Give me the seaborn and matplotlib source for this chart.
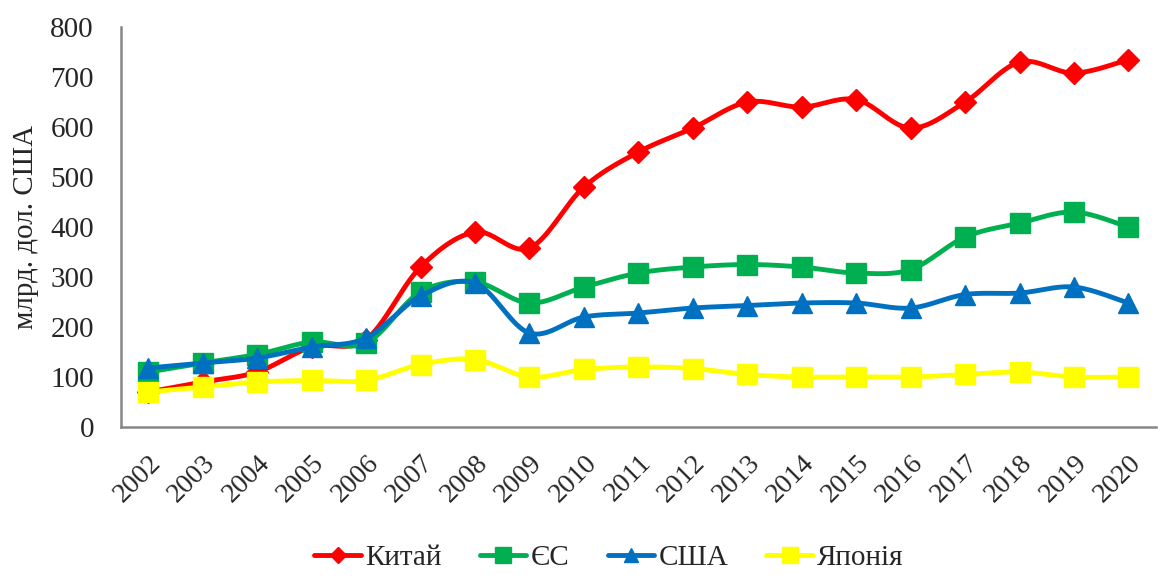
import numpy as np
import pandas as pd
import matplotlib
matplotlib.use("Agg")
import matplotlib.pyplot as plt
from matplotlib.lines import Line2D
import seaborn as sns

# Дані (млрд. дол. США)
years = [str(y) for y in range(2002, 2021)]
china = [70, 90, 110, 160, 175, 320, 390, 358, 480, 550, 598, 650, 640, 655, 598, 650, 730, 708, 735]
eu = [110, 128, 145, 170, 168, 270, 290, 248, 280, 308, 320, 325, 320, 308, 315, 380, 408, 430, 400]
usa = [118, 128, 138, 160, 178, 262, 288, 188, 220, 228, 238, 243, 248, 248, 238, 265, 268, 280, 248]
japan = [70, 80, 90, 93, 93, 125, 135, 100, 115, 120, 117, 105, 100, 100, 100, 105, 110, 100, 100]

series_names = ["Китай", "ЄС", "США", "Японія"]
series_vals = [china, eu, usa, japan]
colors = ["#FF0000", "#00B050", "#0070C0", "#FFFF00"]
markers = ["D", "s", "^", "s"]
msizes = [11, 15, 14, 15]

sns.set_style("white")
plt.rcParams['font.family'] = ['Liberation Serif', 'DejaVu Serif']


def smooth(y, n=30):
    # згладжування як у Excel (криві Безьє між точками)
    y = np.asarray(y, dtype=float)
    x = np.arange(len(y), dtype=float)
    xs, ys = [], []
    for i in range(len(y) - 1):
        im, ip = max(i - 1, 0), min(i + 2, len(y) - 1)
        p0 = np.array([x[i], y[i]])
        p3 = np.array([x[i + 1], y[i + 1]])
        p1 = p0 + (np.array([x[i + 1], y[i + 1]]) - np.array([x[im], y[im]])) / 6
        p2 = p3 - (np.array([x[ip], y[ip]]) - np.array([x[i], y[i]])) / 6
        t = np.linspace(0, 1, n)[:, None]
        pts = (1 - t) ** 3 * p0 + 3 * (1 - t) ** 2 * t * p1 + 3 * (1 - t) * t ** 2 * p2 + t ** 3 * p3
        xs.extend(pts[:, 0])
        ys.extend(pts[:, 1])
    return np.array(xs), np.array(ys)


fig = plt.figure(figsize=(11.58, 5.77), dpi=100)
ax = fig.add_axes([0.1045, 0.26, 0.8935, 0.693])

idx = np.arange(len(years))
handles = []
for name, vals, c, m, ms in zip(series_names, series_vals, colors, markers, msizes):
    sx, sy = smooth(vals)
    sns.lineplot(x=sx, y=sy, ax=ax, color=c, lw=3.5, sort=False, legend=False)
    ax.plot(idx, vals, ls="none", marker=m, ms=ms, color=c, mec=c)
    handles.append(Line2D([0], [0], color=c, lw=3.5, marker=m, ms=ms * 0.75, mec=c))

ax.set_xlim(-0.5, len(years) - 0.5)
ax.set_ylim(0, 800)
ax.set_yticks(range(0, 801, 100))
ax.set_xticks(idx)
ax.set_xticks(np.arange(-0.5, len(years), 1), minor=True)
ax.set_xticklabels(years, rotation=45, ha="right", rotation_mode="anchor", fontsize=20)
ax.tick_params(axis="x", which="major", length=0, pad=17)
ax.tick_params(axis="x", which="minor", length=6.5, width=1.5, color="#878787")
ax.tick_params(axis="y", length=6.5, width=1.5, color="#878787", labelsize=21, pad=13)

for s in ["top", "right"]:
    ax.spines[s].set_visible(False)
for s in ["left", "bottom"]:
    ax.spines[s].set_color("#878787")
    ax.spines[s].set_linewidth(1.8)

ax.set_ylabel("млрд. дол. США", fontsize=21, labelpad=8)

fig.legend(handles, series_names, loc="lower center", bbox_to_anchor=(0.526, 0.0), ncol=4,
           frameon=False, fontsize=21, handlelength=1.6, columnspacing=1.3, handletextpad=0.15,
           borderaxespad=0.1, borderpad=0.1)

fig.savefig("out.png", dpi=100)
